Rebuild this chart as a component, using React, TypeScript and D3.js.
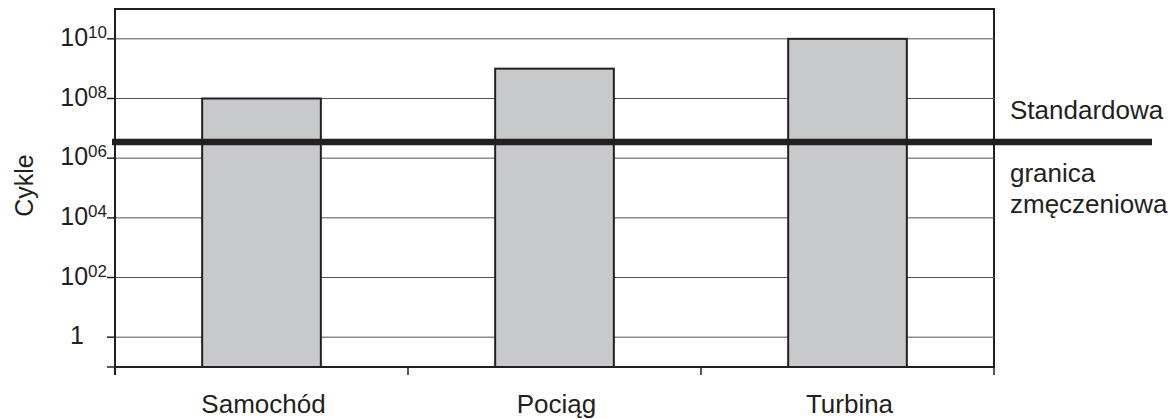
import React from "react";
import * as d3 from "d3";

// Number of load cycles a component endures, per application (log scale)
const categories: string[] = ["Samochód", "Pociąg", "Turbina"];
const cycles: number[] = [1e8, 1e9, 1e10];

// Standard fatigue limit drawn as a horizontal reference line
const fatigueLimit = 3.5e6;
const limitLabelTop: string[] = ["Standardowa"];
const limitLabelBottom: string[] = ["granica", "zmęczeniowa"];

// Y tick values with their labels (base and exponent)
const yTickValues: number[] = [1, 1e2, 1e4, 1e6, 1e8, 1e10];
const yTickExponents: string[] = ["", "02", "04", "06", "08", "10"];
const yAxisTitle = "Cykle";

const W = 1176;
const H = 419;
const plot = { left: 115, top: 9, right: 994, bottom: 367 };
const ink = "#231f20";
const font = "'Liberation Sans', Arial, Helvetica, sans-serif";

export default function App() {
  const x = d3
    .scaleBand<string>()
    .domain(categories)
    .range([plot.left, plot.right])
    .paddingInner(0)
    .paddingOuter(0);
  const y = d3
    .scaleLog()
    .domain([0.1, 1e11])
    .range([plot.bottom, plot.top]);

  const barW = x.bandwidth() * 0.405;
  const boundaries = [...categories.map((c) => x(c)!), plot.right];
  const yLimit = y(fatigueLimit);

  return (
    <svg
      width={W}
      height={H}
      style={{ position: "absolute", left: 0, top: 0, display: "block", background: "#fff" }}
      fontFamily={font}
    >
      {/* plot frame */}
      <rect
        x={plot.left}
        y={plot.top}
        width={plot.right - plot.left}
        height={plot.bottom - plot.top}
        fill="#fff"
        stroke={ink}
        strokeWidth={2}
      />

      {/* horizontal gridlines */}
      {yTickValues.map((v, i) => (
        <line
          key={"g" + i}
          x1={plot.left}
          x2={plot.right}
          y1={y(v)}
          y2={y(v)}
          stroke="#555"
          strokeWidth={1}
        />
      ))}

      {/* y ticks, including the bottom edge */}
      {[...yTickValues.map((v) => y(v)), plot.bottom].map((py, i) => (
        <line key={"yt" + i} x1={plot.left - 8} x2={plot.left} y1={py} y2={py} stroke={ink} strokeWidth={1.5} />
      ))}

      {/* x ticks at category boundaries */}
      {boundaries.map((bx, i) => (
        <line key={"xt" + i} x1={bx} x2={bx} y1={plot.bottom} y2={plot.bottom + 8} stroke={ink} strokeWidth={1.5} />
      ))}

      {/* bars */}
      {categories.map((c, i) => {
        const cx = x(c)! + x.bandwidth() / 2;
        return (
          <rect
            key={"b" + c}
            x={cx - barW / 2}
            y={y(cycles[i])}
            width={barW}
            height={plot.bottom - y(cycles[i])}
            fill="#c8c9cb"
            stroke={ink}
            strokeWidth={2}
          />
        );
      })}

      {/* axis lines over the bars */}
      <line x1={plot.left} x2={plot.left} y1={plot.top} y2={plot.bottom + 8} stroke={ink} strokeWidth={2} />
      <line x1={plot.left} x2={plot.right} y1={plot.bottom} y2={plot.bottom} stroke={ink} strokeWidth={2} />

      {/* fatigue limit line */}
      <line x1={plot.left - 3} x2={1152} y1={yLimit} y2={yLimit} stroke={ink} strokeWidth={6.5} />

      {/* y tick labels */}
      {yTickValues.map((v, i) =>
        yTickExponents[i] === "" ? (
          <text key={"yl" + i} x={84} y={y(v) + 7} textAnchor="end" fontSize={25} fill={ink}>
            1
          </text>
        ) : (
          <text key={"yl" + i} x={107} y={y(v) + 7} textAnchor="end" fontSize={25} fill={ink}>
            10
            <tspan fontSize={17} dy={-8}>
              {yTickExponents[i]}
            </tspan>
          </text>
        )
      )}

      {/* y axis title */}
      <text
        transform={`translate(33, ${(plot.top + plot.bottom) / 2 - 2.5}) rotate(-90)`}
        textAnchor="middle"
        fontSize={25}
        fill={ink}
      >
        {yAxisTitle}
      </text>

      {/* category labels */}
      {categories.map((c) => (
        <text key={"xl" + c} x={x(c)! + x.bandwidth() / 2 + 2} y={413} textAnchor="middle" fontSize={26} fill={ink}>
          {c}
        </text>
      ))}

      {/* fatigue limit annotation */}
      {limitLabelTop.map((t, i) => (
        <text key={"lt" + i} x={1010} y={119 + i * 31} fontSize={26} fill={ink}>
          {t}
        </text>
      ))}
      {limitLabelBottom.map((t, i) => (
        <text key={"lb" + i} x={1010} y={182 + i * 31} fontSize={26} fill={ink}>
          {t}
        </text>
      ))}
    </svg>
  );
}
